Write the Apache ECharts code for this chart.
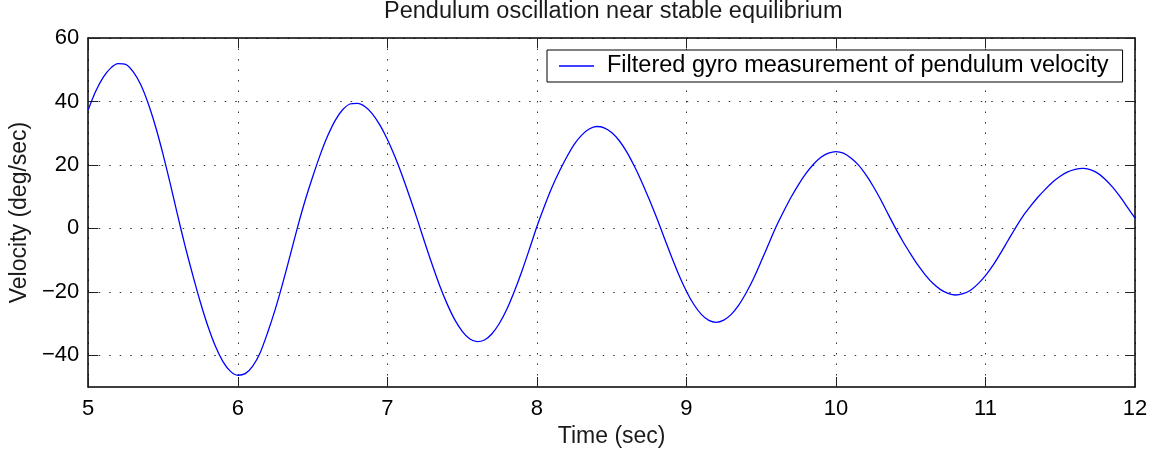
<!DOCTYPE html>
<html>
<head>
<meta charset="utf-8">
<script src="https://cdn.jsdelivr.net/npm/echarts@6/dist/echarts.min.js"></script>
<style>
  html, body { margin: 0; padding: 0; background: #fff; }
  #chart { width: 1156px; height: 455px; }
</style>
</head>
<body>
<div id="chart"></div>
<script>
// Gyro velocity samples every 0.05 s (time in seconds)
const timeSec = [
  5.00, 5.05, 5.10, 5.15, 5.20, 5.25, 5.30, 5.35, 5.40, 5.45,
  5.50, 5.55, 5.60, 5.65, 5.70, 5.75, 5.80, 5.85, 5.90, 5.95,
  6.00, 6.05, 6.10, 6.15, 6.20, 6.25, 6.30, 6.35, 6.40, 6.45,
  6.50, 6.55, 6.60, 6.65, 6.70, 6.75, 6.80, 6.85, 6.90, 6.95,
  7.00, 7.05, 7.10, 7.15, 7.20, 7.25, 7.30, 7.35, 7.40, 7.45,
  7.50, 7.55, 7.60, 7.65, 7.70, 7.75, 7.80, 7.85, 7.90, 7.95,
  8.00, 8.05, 8.10, 8.15, 8.20, 8.25, 8.30, 8.35, 8.40, 8.45,
  8.50, 8.55, 8.60, 8.65, 8.70, 8.75, 8.80, 8.85, 8.90, 8.95,
  9.00, 9.05, 9.10, 9.15, 9.20, 9.25, 9.30, 9.35, 9.40, 9.45,
  9.50, 9.55, 9.60, 9.65, 9.70, 9.75, 9.80, 9.85, 9.90, 9.95,
  10.00, 10.05, 10.10, 10.15, 10.20, 10.25, 10.30, 10.35, 10.40, 10.45,
  10.50, 10.55, 10.60, 10.65, 10.70, 10.75, 10.80, 10.85, 10.90, 10.95,
  11.00, 11.05, 11.10, 11.15, 11.20, 11.25, 11.30, 11.35, 11.40, 11.45,
  11.50, 11.55, 11.60, 11.65, 11.70, 11.75, 11.80, 11.85, 11.90, 11.95,
  12.00
];
// Filtered gyro velocity (deg/sec)
const velocity = [
  37.4, 43.2, 47.6, 50.5, 51.9, 51.7, 49.4, 45.4, 39.5, 32.1,
  23.4, 13.8, 3.7, -6.0, -14.9, -23.3, -30.8, -37.1, -41.9, -45.0,
  -46.3, -45.8, -43.4, -39.2, -32.8, -25.6, -17.4, -8.6, 0.4, 8.7,
  16.1, 23.0, 29.0, 33.9, 37.3, 39.2, 39.4, 38.4, 36.1, 32.6,
  28.1, 22.7, 16.6, 9.9, 2.9, -4.4, -11.4, -18.0, -23.8, -28.7,
  -32.4, -34.8, -35.7, -35.2, -33.2, -29.9, -25.4, -19.8, -13.5, -6.6,
  0.5, 6.9, 12.8, 17.9, 22.5, 26.5, 29.4, 31.3, 32.1, 31.7,
  30.2, 27.7, 24.2, 19.8, 14.8, 9.3, 3.5, -2.7, -8.9, -14.7,
  -19.8, -24.0, -27.1, -29.0, -29.6, -28.9, -27.1, -24.2, -20.3, -15.7,
  -10.4, -4.9, 0.5, 5.3, 9.8, 13.8, 17.3, 20.2, 22.4, 23.7,
  24.2, 23.7, 22.2, 20.0, 16.9, 13.2, 9.0, 4.4, -0.1, -4.3,
  -8.1, -11.7, -14.8, -17.4, -19.3, -20.5, -21.0, -20.6, -19.5, -17.5,
  -14.9, -11.7, -7.9, -3.9, 0.1, 3.8, 6.9, 9.8, 12.3, 14.6,
  16.4, 17.8, 18.6, 18.9, 18.5, 17.4, 15.5, 13.0, 10.0, 6.6,
  3.2
];

// Axis ranges and tick positions
const xRange = [5, 12];
const xTickStep = 1;
const yRange = [-50, 60];
const yTicks = [-40, -20, 0, 20, 40, 60];

const seriesName = 'Filtered gyro measurement of pendulum velocity';
const titleText = 'Pendulum oscillation near stable equilibrium';
const xName = 'Time (sec)';
const yName = 'Velocity (deg/sec)';

const FONT = '"Liberation Sans", Arial, Helvetica, sans-serif';

const points = timeSec.map((t, i) => [t, velocity[i]]);

const fmtNum = v => (v < 0 ? '\u2212' + Math.abs(v) : String(v));

const gridDots = { type: [1.5, 9], color: '#333', width: 1 };
const boxLine = { show: true, onZero: false, lineStyle: { color: '#000', width: 1.5 } };
const innerTick = { show: true, inside: true, length: 10, lineStyle: { color: '#222', width: 1 } };

const chart = echarts.init(document.getElementById('chart'), null, { renderer: 'canvas' });

chart.setOption({
  animation: false,
  backgroundColor: '#fff',
  title: {
    text: titleText,
    left: 384,
    top: 0,
    padding: 0,
    textStyle: { fontFamily: FONT, fontSize: 23.5, fontWeight: 'normal', color: '#1a1a1a' }
  },
  legend: {
    data: [seriesName],
    left: 547,
    top: 50,
    padding: [4, 14, 4, 12],
    borderColor: '#000',
    borderWidth: 1,
    backgroundColor: '#fff',
    icon: 'rect',
    itemWidth: 35,
    itemHeight: 1.4,
    textStyle: { fontFamily: FONT, fontSize: 23.5, color: '#000', lineHeight: 23, padding: [0, 0, 0, 8] }
  },
  grid: { left: 86, top: 38, width: 1049, height: 349, containLabel: false },
  xAxis: [
    {
      type: 'value',
      min: xRange[0],
      max: xRange[1],
      interval: xTickStep,
      position: 'bottom',
      name: xName,
      nameLocation: 'middle',
      nameGap: 37,
      nameTextStyle: { fontFamily: FONT, fontSize: 23, color: '#1a1a1a' },
      axisLine: boxLine,
      axisTick: innerTick,
      axisLabel: { fontFamily: FONT, fontSize: 22, color: '#000', margin: 11 },
      splitLine: { show: true, lineStyle: gridDots }
    },
    {
      type: 'value',
      min: xRange[0],
      max: xRange[1],
      interval: xTickStep,
      position: 'top',
      axisLine: boxLine,
      axisTick: innerTick,
      axisLabel: { show: false },
      splitLine: { show: false }
    }
  ],
  yAxis: [
    {
      type: 'value',
      min: yRange[0],
      max: yRange[1],
      position: 'left',
      name: yName,
      nameLocation: 'middle',
      nameGap: 54,
      nameTextStyle: { fontFamily: FONT, fontSize: 23, color: '#1a1a1a' },
      axisLine: boxLine,
      axisTick: Object.assign({ customValues: yTicks }, innerTick),
      axisLabel: { customValues: yTicks, fontFamily: FONT, fontSize: 22, color: '#000', margin: 9, formatter: fmtNum },
      splitLine: { show: true, lineStyle: gridDots }
    },
    {
      type: 'value',
      min: yRange[0],
      max: yRange[1],
      position: 'right',
      axisLine: boxLine,
      axisTick: Object.assign({ customValues: yTicks }, innerTick),
      axisLabel: { show: false, customValues: yTicks },
      splitLine: { show: false }
    }
  ],
  series: [
    {
      name: seriesName,
      type: 'line',
      data: points,
      xAxisIndex: 0,
      yAxisIndex: 0,
      symbol: 'none',
      smooth: 0.25,
      color: '#0000ff',
      lineStyle: { color: '#0000ff', width: 1.3 },
      z: 3
    }
  ]
});
</script>
</body>
</html>
